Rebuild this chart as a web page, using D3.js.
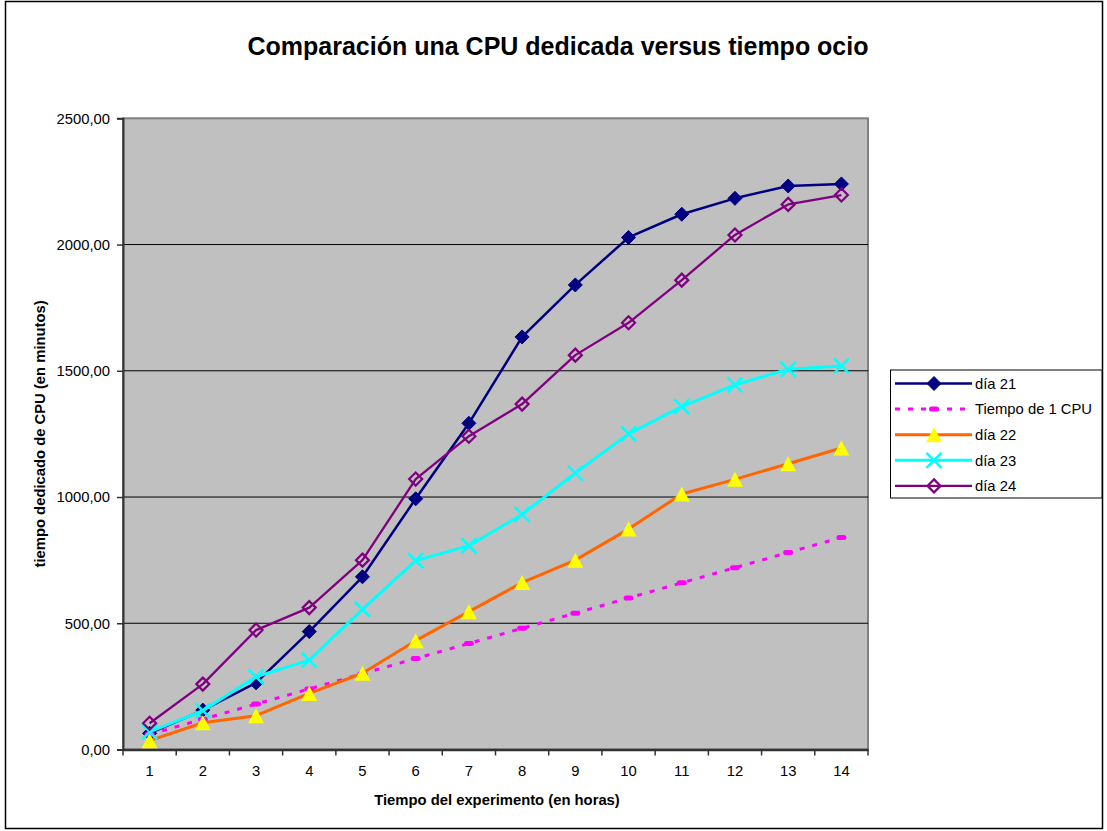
<!DOCTYPE html>
<html>
<head>
<meta charset="utf-8">
<script src="https://cdn.jsdelivr.net/npm/d3@7"></script>
<style>
  html, body { margin: 0; padding: 0; background: #fff; }
  svg { display: block; font-family: Arial, "Liberation Sans", sans-serif; }
</style>
</head>
<body>
<svg id="chart" width="1107" height="831"></svg>
<script>
// Hours of the experiment
const hours = [1, 2, 3, 4, 5, 6, 7, 8, 9, 10, 11, 12, 13, 14];
// Dedicated CPU time (minutes) for each day
const dia21 = [64, 156, 264, 467, 684, 993, 1292, 1634, 1840, 2028, 2120, 2183, 2232, 2240];
const tiempo1CPU = [60, 120, 180, 240, 300, 360, 420, 480, 540, 600, 660, 720, 780, 840];
const dia22 = [35, 106, 134, 222, 302, 431, 546, 661, 750, 873, 1012, 1070, 1132, 1194];
const dia23 = [70, 154, 288, 354, 555, 748, 807, 931, 1095, 1250, 1358, 1444, 1506, 1519];
const dia24 = [104, 259, 473, 562, 750, 1071, 1241, 1368, 1562, 1690, 1859, 2038, 2159, 2196];
const yTicks = [0, 500, 1000, 1500, 2000, 2500];

const seriesNames = ["día 21", "Tiempo de 1 CPU", "día 22", "día 23", "día 24"];
const seriesValues = [dia21, tiempo1CPU, dia22, dia23, dia24];
const styles = [
  { line: "#000080", width: 2.5, dash: null, marker: "diamondFilled", color: "#000080" },
  { line: "#FF00FF", width: 3, dash: "5,8", marker: "pill", color: "#FF00FF" },
  { line: "#FF6600", width: 3, dash: null, marker: "triangle", color: "#FFFF00" },
  { line: "#00FFFF", width: 3, dash: null, marker: "cross", color: "#00FFFF" },
  { line: "#800080", width: 2.3, dash: null, marker: "diamondOpen", color: "#800080" }
];

const svg = d3.select("#chart");
const plot = { left: 123, top: 118.3, right: 868, bottom: 749.5 };

// outer chart frame
svg.append("rect").attr("x", 5.5).attr("y", 1.5).attr("width", 1097).attr("height", 827)
  .attr("fill", "#fff").attr("stroke", "#000").attr("stroke-width", 1.5);

const x = d3.scaleBand().domain(hours).range([plot.left, plot.right]).padding(0);
const y = d3.scaleLinear().domain([0, 2500]).range([plot.bottom, plot.top]);
const cx = d => x(d) + x.bandwidth() / 2;

// plot area background
svg.append("rect").attr("x", plot.left).attr("y", plot.top)
  .attr("width", plot.right - plot.left).attr("height", plot.bottom - plot.top)
  .attr("fill", "#C0C0C0").attr("stroke", "#808080").attr("stroke-width", 2);

// horizontal gridlines
svg.append("g").selectAll("line").data(yTicks.filter(t => t > 0 && t < 2500)).join("line")
  .attr("x1", plot.left).attr("x2", plot.right)
  .attr("y1", d => y(d)).attr("y2", d => y(d))
  .attr("stroke", "#000").attr("stroke-width", 1);

// y axis
const fmt = d3.formatLocale({ decimal: ",", thousands: "", grouping: [3], currency: ["", ""] }).format(".2f");
const yAxis = svg.append("g").attr("transform", `translate(${plot.left},0)`)
  .call(d3.axisLeft(y).tickValues(yTicks).tickFormat(fmt).tickSize(6).tickPadding(7));
yAxis.select(".domain").attr("stroke", "#333").attr("stroke-width", 2);
yAxis.selectAll(".tick line").attr("stroke", "#333").attr("stroke-width", 1.5);
yAxis.selectAll("text").attr("font-size", "14.8px").attr("fill", "#000")
  .attr("font-family", "Arial, 'Liberation Sans', sans-serif");

// x axis: labels centred in each category, ticks on category boundaries
const xAxis = svg.append("g").attr("transform", `translate(0,${plot.bottom})`)
  .call(d3.axisBottom(x).tickSize(0).tickPadding(16));
xAxis.select(".domain").attr("stroke", "#333").attr("stroke-width", 2.5);
xAxis.selectAll("text").attr("font-size", "14.8px").attr("fill", "#000")
  .attr("font-family", "Arial, 'Liberation Sans', sans-serif");
const bounds = hours.map(h => x(h)).concat([plot.right]);
xAxis.append("g").selectAll("line").data(bounds).join("line")
  .attr("x1", d => d).attr("x2", d => d).attr("y1", 0).attr("y2", 6)
  .attr("stroke", "#333").attr("stroke-width", 1.5);

// marker shapes
function drawMarker(g, kind, color, px, py) {
  if (kind === "diamondFilled") {
    g.append("path").attr("d", `M${px},${py - 7}L${px + 7},${py}L${px},${py + 7}L${px - 7},${py}Z`)
      .attr("fill", color).attr("stroke", color).attr("stroke-width", 1);
  } else if (kind === "diamondOpen") {
    g.append("path").attr("d", `M${px},${py - 6.5}L${px + 6.5},${py}L${px},${py + 6.5}L${px - 6.5},${py}Z`)
      .attr("fill", "none").attr("stroke", color).attr("stroke-width", 2.2);
  } else if (kind === "triangle") {
    g.append("path").attr("d", `M${px},${py - 7.5}L${px + 8},${py + 7.5}L${px - 8},${py + 7.5}Z`)
      .attr("fill", color);
  } else if (kind === "cross") {
    g.append("path").attr("d", `M${px - 7.5},${py - 7.5}L${px + 7.5},${py + 7.5}M${px + 7.5},${py - 7.5}L${px - 7.5},${py + 7.5}`)
      .attr("stroke", color).attr("stroke-width", 2.5);
  } else if (kind === "pill") {
    g.append("rect").attr("x", px - 5).attr("y", py - 2.5).attr("width", 10).attr("height", 5)
      .attr("rx", 2.5).attr("fill", color);
  }
}

const line = d3.line().x((d, i) => cx(hours[i])).y(d => y(d));

seriesValues.forEach((vals, si) => {
  const st = styles[si];
  const g = svg.append("g");
  g.append("path").datum(vals).attr("d", line).attr("fill", "none")
    .attr("stroke", st.line).attr("stroke-width", st.width)
    .attr("stroke-dasharray", st.dash).attr("stroke-linejoin", "round");
  vals.forEach((v, i) => drawMarker(g, st.marker, st.color, cx(hours[i]), y(v)));
});

// titles
svg.append("text").attr("x", 558).attr("y", 55).attr("text-anchor", "middle")
  .attr("font-size", "25px").attr("font-weight", "bold")
  .text("Comparación una CPU dedicada versus tiempo ocio");
svg.append("text").attr("x", 497).attr("y", 805).attr("text-anchor", "middle")
  .attr("font-size", "14.8px").attr("font-weight", "bold")
  .text("Tiempo del experimento (en horas)");
svg.append("text").attr("transform", `translate(45,${(plot.top + plot.bottom) / 2}) rotate(-90)`)
  .attr("text-anchor", "middle").attr("font-size", "14.8px").attr("font-weight", "bold")
  .text("tiempo dedicado de CPU (en minutos)");

// legend
const legend = svg.append("g");
legend.append("rect").attr("x", 890.5).attr("y", 370).attr("width", 211.5).attr("height", 128)
  .attr("fill", "#fff").attr("stroke", "#000").attr("stroke-width", 1);
seriesNames.forEach((name, i) => {
  const st = styles[i];
  const ly = 383.5 + i * 25.6;
  const g = legend.append("g");
  g.append("line").attr("x1", 895).attr("x2", 972).attr("y1", ly).attr("y2", ly)
    .attr("stroke", st.line).attr("stroke-width", st.width).attr("stroke-dasharray", st.dash);
  drawMarker(g, st.marker, st.color, 934, ly);
  g.append("text").attr("x", 975).attr("y", ly + 5.3).attr("font-size", "14.8px").text(name);
});
</script>
</body>
</html>
